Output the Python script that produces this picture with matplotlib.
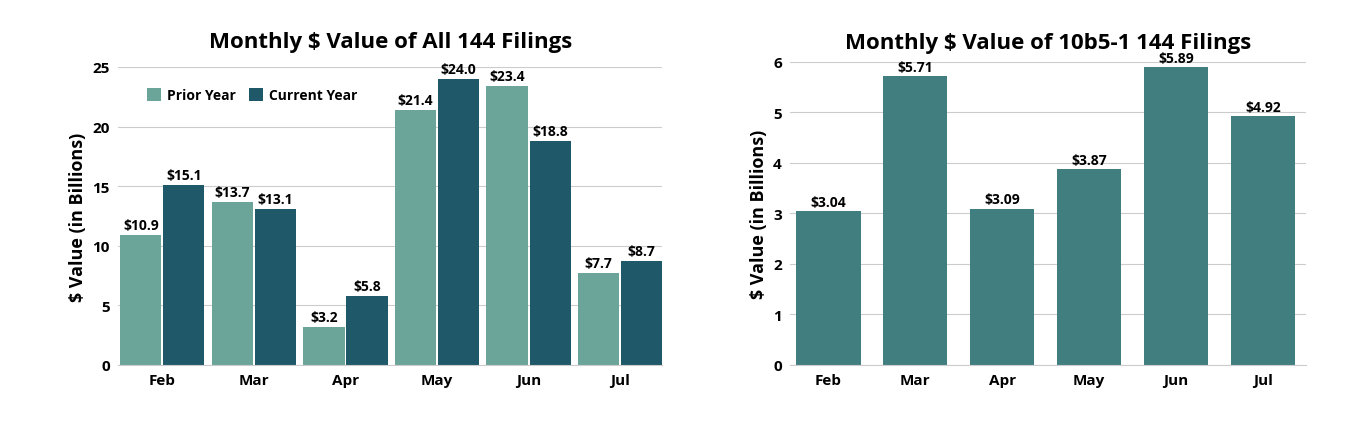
import matplotlib
matplotlib.use("Agg")
import matplotlib.pyplot as plt
import numpy as np

months = ["Feb", "Mar", "Apr", "May", "Jun", "Jul"]
prior_year = [10.9, 13.7, 3.2, 21.4, 23.4, 7.7]
current_year = [15.1, 13.1, 5.8, 24.0, 18.8, 8.7]
plan_values = [3.04, 5.71, 3.09, 3.87, 5.89, 4.92]

plt.rcParams["font.family"] = ["Open Sans", "DejaVu Sans"]
plt.rcParams["font.weight"] = "bold"

fig = plt.figure(figsize=(13.6, 4.27), dpi=100)
ax1 = fig.add_axes([0.087, 0.143, 0.4, 0.698])
ax2 = fig.add_axes([0.581, 0.143, 0.379, 0.71])

x = np.arange(len(months))
w = 0.45
b1 = ax1.bar(x - w / 2 - 0.01, prior_year, w, color="#6ba59a", label="Prior Year", zorder=2)
b2 = ax1.bar(x + w / 2 + 0.01, current_year, w, color="#1f5868", label="Current Year", zorder=2)
for bars in (b1, b2):
    ax1.bar_label(bars, labels=[f"${v:.1f}" for v in bars.datavalues],
                  padding=2, fontsize=10, fontweight="bold")
ax1.set_ylim(0, 25)
ax1.set_yticks(range(0, 26, 5))
ax1.set_xlim(-0.48, 5.46)
ax1.set_title("Monthly $ Value of All 144 Filings", fontsize=16, fontweight="bold", pad=14)
ax1.legend(loc="upper left", bbox_to_anchor=(0.03, 0.97), ncol=2, frameon=False,
           fontsize=10, handlelength=1, handleheight=1, columnspacing=1, handletextpad=0.4)

b3 = ax2.bar(x, plan_values, 0.74, color="#417e80", zorder=2)
ax2.bar_label(b3, labels=[f"${v:.2f}" for v in plan_values], padding=2,
              fontsize=10, fontweight="bold")
ax2.set_ylim(0, 6)
ax2.set_xlim(-0.44, 5.49)
ax2.set_title("Monthly $ Value of 10b5-1 144 Filings", fontsize=16, fontweight="bold", pad=10)

for ax in (ax1, ax2):
    ax.set_xticks(x)
    ax.set_xticklabels(months)
    ax.set_ylabel("$ Value (in Billions)", fontsize=13, fontweight="bold")
    ax.grid(axis="y", color="#cccccc", linewidth=0.8, zorder=0)
    for s in ("top", "right", "left"):
        ax.spines[s].set_visible(False)
    ax.spines["bottom"].set_color("#cccccc")
    ax.tick_params(length=0, labelsize=11, pad=6)
    for lab in ax.get_xticklabels() + ax.get_yticklabels():
        lab.set_fontweight("bold")

fig.savefig("out.png", dpi=100)
